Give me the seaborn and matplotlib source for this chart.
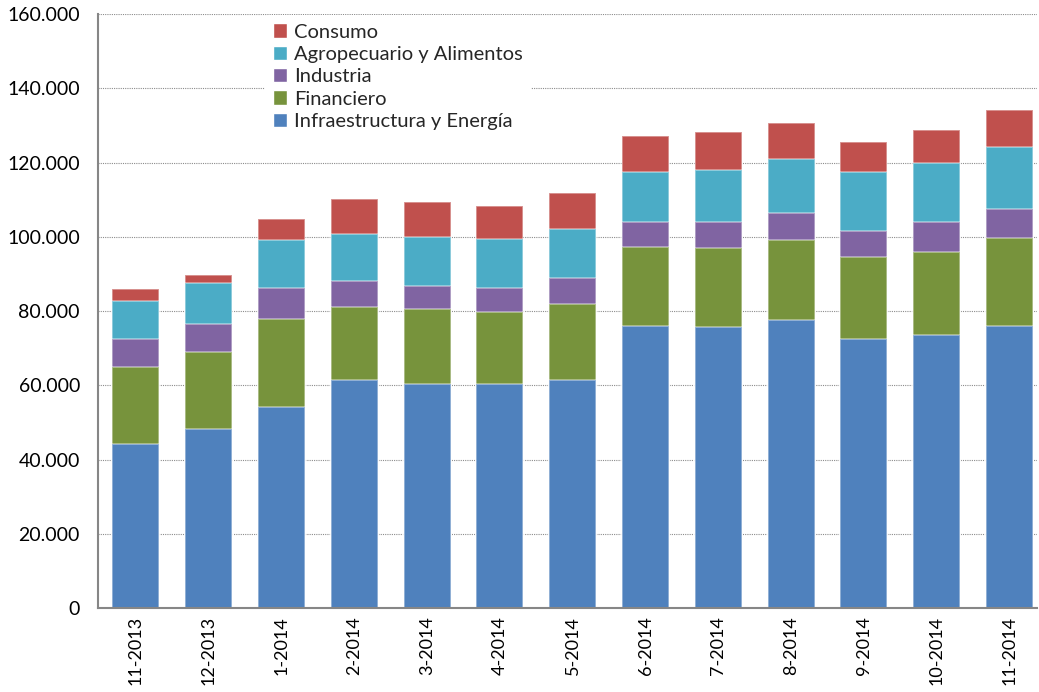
import numpy as np
import pandas as pd
import matplotlib
matplotlib.use("Agg")
import matplotlib.pyplot as plt
from matplotlib.ticker import FuncFormatter
from matplotlib.patches import Patch
import seaborn as sns

meses = ["11-2013", "12-2013", "1-2014", "2-2014", "3-2014", "4-2014", "5-2014",
         "6-2014", "7-2014", "8-2014", "9-2014", "10-2014", "11-2014"]

# valores por sector (estimados del grafico)
infraestructura = [44200, 48100, 54100, 61500, 60300, 60300, 61500,
                   75900, 75600, 77500, 72600, 73500, 76100]
financiero = [20700, 21000, 23800, 19700, 20200, 19400, 20300,
              21300, 21300, 21800, 21900, 22500, 23700]
industria = [7600, 7300, 8300, 6800, 6300, 6400, 7000,
             6700, 7000, 7200, 7000, 7900, 7700]
agropecuario = [10200, 11200, 13100, 12900, 13200, 13400, 13300,
                13500, 14200, 14400, 15900, 16000, 16700]
consumo = [3200, 2100, 5400, 9200, 9300, 8900, 9700,
           9700, 10200, 9700, 8200, 8800, 10000]

sectores = ["Infraestructura y Energía", "Financiero", "Industria",
            "Agropecuario y Alimentos", "Consumo"]
colores = ["#4F81BD", "#77933C", "#8064A2", "#4BACC6", "#C0504D"]

sns.set_style("white")
plt.rcParams["font.family"] = ["Lato", "DejaVu Sans"]

df = pd.DataFrame({"mes": meses,
                   sectores[0]: infraestructura,
                   sectores[1]: financiero,
                   sectores[2]: industria,
                   sectores[3]: agropecuario,
                   sectores[4]: consumo})
acum = df[sectores].cumsum(axis=1)

fig = plt.figure(figsize=(10.39, 6.92), dpi=100)
ax = fig.add_axes([0.0943, 0.1214, 0.904, 0.858])

# draw from the top layer down so lower layers cover upper ones
for sec, col in reversed(list(zip(sectores, colores))):
    sns.barplot(x=df["mes"], y=acum[sec], color=col, width=0.645,
                saturation=1, edgecolor=(1, 1, 1, 0.45), linewidth=1.2,
                ax=ax, zorder=2)

ax.set_ylim(0, 160000)
ax.set_xlim(-0.52, 12.38)
ax.set_yticks(np.arange(0, 160001, 20000))
ax.yaxis.set_major_formatter(FuncFormatter(lambda v, p: f"{int(v):,}".replace(",", ".")))
ax.set_xlabel("")
ax.set_ylabel("")
for v in range(20000, 160001, 20000):
    ax.axhline(v, color="#8c8c8c", linestyle=(0, (1, 1)), linewidth=0.8, zorder=1)

ax.tick_params(axis="y", length=0, labelsize=14, pad=13, colors="black")
ax.tick_params(axis="x", length=0, labelsize=13, rotation=90, pad=6, colors="black")
for s in ["top", "right"]:
    ax.spines[s].set_visible(False)
ax.spines["left"].set_color("#868686")
ax.spines["left"].set_linewidth(1.5)
ax.spines["bottom"].set_color("#868686")
ax.spines["bottom"].set_linewidth(1.5)

handles = [Patch(facecolor=c, label=s) for s, c in zip(sectores, colores)][::-1]
leg = ax.legend(handles=handles, loc="upper left", bbox_to_anchor=(0.178, 0.998),
                frameon=True, fontsize=14.5, handlelength=0.7, handleheight=0.7,
                handletextpad=0.35, labelspacing=0.26, borderaxespad=0)
leg.get_frame().set_facecolor("white")
leg.get_frame().set_edgecolor("none")
leg.get_frame().set_alpha(1)

fig.savefig("out.png", dpi=100)
